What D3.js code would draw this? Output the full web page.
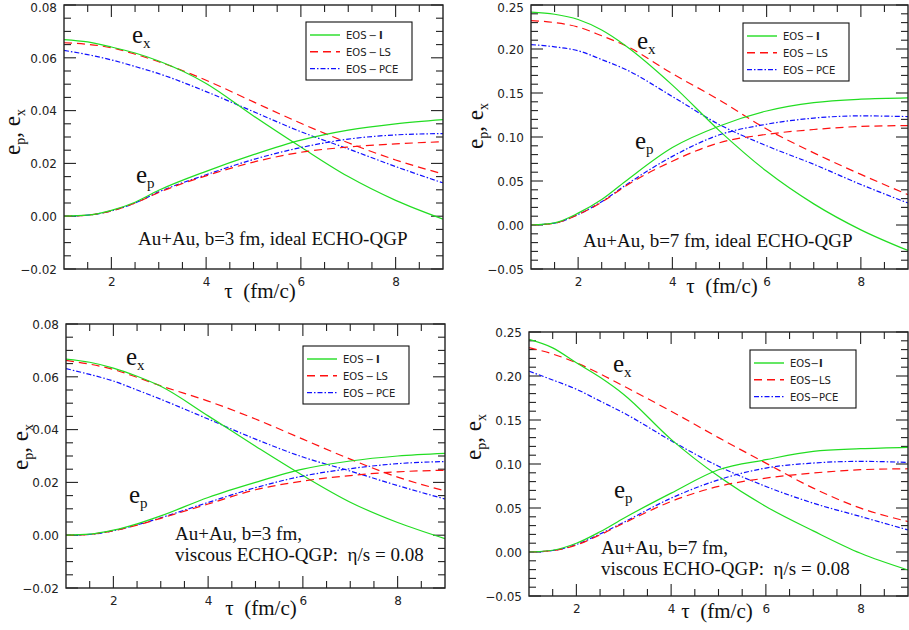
<!DOCTYPE html>
<html>
<head>
<meta charset="utf-8">
<script src="https://cdn.jsdelivr.net/npm/d3@7"></script>
<style>
  body { margin: 0; background: #fff; }
  svg text { white-space: pre; }
</style>
</head>
<body>
<svg id="fig" width="909" height="630"></svg>
<script>
// Proper time grid (fm/c) shared by every curve
const tau = [1, 1.5, 2, 2.5, 3, 4, 5, 6, 7, 8, 9];

// Legend / series names
const eosNames = ["I", "LS", "PCE"];

// Au+Au, b=3 fm, ideal hydro: e_x (spatial) and e_p (momentum) anisotropy
const exIdealB3 = {
  I:   [0.0669, 0.0660, 0.0641, 0.0618, 0.0588, 0.0503, 0.0380, 0.0262, 0.0150, 0.0060, -0.0011],
  LS:  [0.0657, 0.0651, 0.0638, 0.0614, 0.0585, 0.0515, 0.0433, 0.0352, 0.0278, 0.0213, 0.0160],
  PCE: [0.0628, 0.0612, 0.0592, 0.0567, 0.0540, 0.0472, 0.0396, 0.0320, 0.0255, 0.0188, 0.0126]
};
const epIdealB3 = {
  I:   [0, 0.0004, 0.0022, 0.0053, 0.0098, 0.0170, 0.0233, 0.0288, 0.0326, 0.0350, 0.0366],
  LS:  [0, 0.0004, 0.0020, 0.0050, 0.0090, 0.0153, 0.0205, 0.0242, 0.0262, 0.0274, 0.0282],
  PCE: [0, 0.0004, 0.0020, 0.0050, 0.0092, 0.0157, 0.0215, 0.0260, 0.0292, 0.0308, 0.0313]
};

// Au+Au, b=7 fm, ideal hydro
const exIdealB7 = {
  I:   [0.2418, 0.2395, 0.2335, 0.2215, 0.2040, 0.1590, 0.1070, 0.0610, 0.0240, -0.0055, -0.0290],
  LS:  [0.2323, 0.2300, 0.2250, 0.2150, 0.2040, 0.1720, 0.1420, 0.1090, 0.0820, 0.0575, 0.0345],
  PCE: [0.2050, 0.2025, 0.1980, 0.1880, 0.1770, 0.1460, 0.1140, 0.0900, 0.0690, 0.0460, 0.0250]
};
const epIdealB7 = {
  I:   [0, 0.0025, 0.0135, 0.0290, 0.0495, 0.0880, 0.1125, 0.1295, 0.1390, 0.1430, 0.1445],
  LS:  [0, 0.0020, 0.0118, 0.0260, 0.0440, 0.0725, 0.0935, 0.1030, 0.1085, 0.1120, 0.1130],
  PCE: [0, 0.0022, 0.0120, 0.0265, 0.0450, 0.0780, 0.1025, 0.1145, 0.1215, 0.1240, 0.1232]
};

// Au+Au, b=3 fm, viscous hydro (eta/s = 0.08)
const exViscB3 = {
  I:   [0.0667, 0.0655, 0.0633, 0.0602, 0.0564, 0.0452, 0.0337, 0.0226, 0.0125, 0.0048, -0.0013],
  LS:  [0.0662, 0.0648, 0.0628, 0.0598, 0.0566, 0.0508, 0.0440, 0.0364, 0.0288, 0.0220, 0.0168],
  PCE: [0.0631, 0.0609, 0.0584, 0.0550, 0.0515, 0.0440, 0.0364, 0.0296, 0.0243, 0.0188, 0.0137]
};
const epViscB3 = {
  I:   [0, 0.0004, 0.0019, 0.0043, 0.0073, 0.0143, 0.0200, 0.0250, 0.0281, 0.0300, 0.0310],
  LS:  [0, 0.0003, 0.0017, 0.0038, 0.0064, 0.0118, 0.0172, 0.0205, 0.0226, 0.0240, 0.0246],
  PCE: [0, 0.0003, 0.0017, 0.0039, 0.0066, 0.0124, 0.0180, 0.0224, 0.0252, 0.0271, 0.0279]
};

// Au+Au, b=7 fm, viscous hydro (eta/s = 0.08)
const exViscB7 = {
  I:   [0.2416, 0.2320, 0.2150, 0.1985, 0.1790, 0.1280, 0.0860, 0.0517, 0.0240, -0.0015, -0.0205],
  LS:  [0.2322, 0.2250, 0.2150, 0.2025, 0.1885, 0.1600, 0.1300, 0.1010, 0.0726, 0.0498, 0.0346],
  PCE: [0.2055, 0.1955, 0.1850, 0.1715, 0.1580, 0.1265, 0.0975, 0.0745, 0.0555, 0.0403, 0.0251]
};
const epViscB7 = {
  I:   [0, 0.0020, 0.0099, 0.0230, 0.0384, 0.0669, 0.0935, 0.1049, 0.1144, 0.1174, 0.1190],
  LS:  [0, 0.0016, 0.0080, 0.0195, 0.0327, 0.0574, 0.0745, 0.0840, 0.0897, 0.0935, 0.0946],
  PCE: [0, 0.0017, 0.0085, 0.0205, 0.0338, 0.0612, 0.0820, 0.0954, 0.1011, 0.1030, 0.1018]
};

// Axis ticks
const xMajorTicks = [2, 4, 6, 8];
const xMinorStep = 0.5;

// Line styles per equation of state
const styles = {
  I:   { color: "#22dd22", dash: null },
  LS:  { color: "#ff1010", dash: "8,5" },
  PCE: { color: "#1010ff", dash: "5,2,1.5,2" }
};

const panels = [
  { box: [64, 5, 443, 269], yDom: [-0.02, 0.08], yMajor: 0.02, yMinor: 0.005,
    ex: exIdealB3, ep: epIdealB3,
    exLab: [132, 43], epLab: [136, 183],
    note: ["Au+Au, b=3 fm, ideal ECHO-QGP"], noteXY: [138, 245],
    xLab: [260, 298], yLab: [20, 132], legend: [306, 22], tight: false },
  { box: [531, 5, 908, 269], yDom: [-0.05, 0.25], yMajor: 0.05, yMinor: 0.01,
    ex: exIdealB7, ep: epIdealB7,
    exLab: [637, 49], epLab: [635, 149],
    note: ["Au+Au, b=7 fm, ideal ECHO-QGP"], noteXY: [583, 247],
    xLab: [722, 293], yLab: [483, 126], legend: [743, 23], tight: false },
  { box: [66, 324, 445, 588], yDom: [-0.02, 0.08], yMajor: 0.02, yMinor: 0.005,
    ex: exViscB3, ep: epViscB3,
    exLab: [126, 365], epLab: [129, 503],
    note: ["Au+Au, b=3 fm,", "viscous ECHO-QGP:  \u03b7/s = 0.08"], noteXY: [175, 540],
    xLab: [261, 615], yLab: [28, 447], legend: [303, 346], tight: false },
  { box: [529, 332, 908, 596], yDom: [-0.05, 0.25], yMajor: 0.05, yMinor: 0.01,
    ex: exViscB7, ep: epViscB7,
    exLab: [613, 372], epLab: [614, 498],
    note: ["Au+Au, b=7 fm,", "viscous ECHO-QGP:  \u03b7/s = 0.08"], noteXY: [601, 554],
    xLab: [717, 618], yLab: [481, 437], legend: [750, 350], tight: true }
];

const svg = d3.select("#fig");
const SANS = "'DejaVu Sans', sans-serif";
const SERIF = "'Liberation Serif', 'Times New Roman', serif";
const frameColor = "#222";

function range(a, b, step) {
  const out = [];
  const n = Math.round((b - a) / step);
  for (let i = 0; i <= n; i++) out.push(+(a + i * step).toFixed(6));
  return out;
}

panels.forEach((p, idx) => {
  const [x0, y0, x1, y1] = p.box;
  const x = d3.scaleLinear().domain([1, 9]).range([x0, x1]);
  const y = d3.scaleLinear().domain(p.yDom).range([y1, y0]);
  const g = svg.append("g");

  const clipId = "clip" + idx;
  svg.append("clipPath").attr("id", clipId)
    .append("rect").attr("x", x0).attr("y", y0).attr("width", x1 - x0).attr("height", y1 - y0);

  // Mirrored inward ticks on all four sides
  const xMinor = range(1, 9, xMinorStep).filter(v => !xMajorTicks.includes(v) && v > 1 && v < 9);
  const yMaj = range(p.yDom[0], p.yDom[1], p.yMajor);
  const yMin = range(p.yDom[0], p.yDom[1], p.yMinor)
    .filter(v => !yMaj.some(m => Math.abs(m - v) < 1e-9) && v > p.yDom[0] && v < p.yDom[1]);
  const MAJ = 12, MIN = 7;

  const ticks = g.append("g").attr("stroke", frameColor).attr("stroke-width", 1.1);
  const tickLine = (xa, ya, xb, yb) => ticks.append("line")
    .attr("x1", xa).attr("y1", ya).attr("x2", xb).attr("y2", yb);
  xMajorTicks.forEach(v => { tickLine(x(v), y1, x(v), y1 - MAJ); tickLine(x(v), y0, x(v), y0 + MAJ); });
  xMinor.forEach(v => { tickLine(x(v), y1, x(v), y1 - MIN); tickLine(x(v), y0, x(v), y0 + MIN); });
  yMaj.forEach(v => { tickLine(x0, y(v), x0 + MAJ, y(v)); tickLine(x1, y(v), x1 - MAJ, y(v)); });
  yMin.forEach(v => { tickLine(x0, y(v), x0 + MIN, y(v)); tickLine(x1, y(v), x1 - MIN, y(v)); });

  // Tick labels via d3 axes
  const axisBottom = d3.axisBottom(x).tickValues(xMajorTicks).tickSize(0).tickFormat(d3.format("d")).tickPadding(0);
  const xAxisG = g.append("g").attr("transform", `translate(0,${y1})`).call(axisBottom);
  xAxisG.select(".domain").remove();
  xAxisG.selectAll("text").attr("y", 17).attr("dy", 0)
    .attr("font-family", SANS).attr("font-size", 12).attr("fill", "#222");

  const axisLeft = d3.axisLeft(y).tickValues(yMaj).tickSize(0).tickPadding(7).tickFormat(d3.format(".2f"));
  const yAxisG = g.append("g").attr("transform", `translate(${x0},0)`).call(axisLeft);
  yAxisG.select(".domain").remove();
  yAxisG.selectAll("text").attr("font-family", SANS).attr("font-size", 12).attr("fill", "#222")
    .attr("dy", d => (Math.abs(d - p.yDom[1]) < 1e-9 && y0 < 10) ? "0.55em" : "0.35em");

  // Curves
  const line = d3.line().x(d => x(d[0])).y(d => y(d[1])).curve(d3.curveMonotoneX);
  const curves = g.append("g").attr("clip-path", `url(#${clipId})`);
  ["ex", "ep"].forEach(kind => {
    eosNames.slice().reverse().forEach(name => {
      const vals = p[kind][name];
      curves.append("path")
        .attr("d", line(tau.map((t, i) => [t, vals[i]])))
        .attr("fill", "none")
        .attr("stroke", styles[name].color)
        .attr("stroke-width", 1.2)
        .attr("stroke-dasharray", styles[name].dash);
    });
  });

  // Frame
  g.append("rect").attr("x", x0).attr("y", y0).attr("width", x1 - x0).attr("height", y1 - y0)
    .attr("fill", "none").attr("stroke", frameColor).attr("stroke-width", 1.4);

  // Curve labels e_x, e_p
  const subLabel = (pos, sub) => {
    const t = g.append("text").attr("x", pos[0]).attr("y", pos[1])
      .attr("font-family", SERIF).attr("font-size", 25).attr("fill", "#111");
    t.append("tspan").text("e");
    t.append("tspan").attr("font-size", 15).attr("dy", 5).text(sub);
  };
  subLabel(p.exLab, "x");
  subLabel(p.epLab, "p");

  // Collision / model annotation
  p.note.forEach((line, i) => {
    g.append("text").attr("x", p.noteXY[0]).attr("y", p.noteXY[1] + i * 21)
      .attr("font-family", SERIF).attr("font-size", 19).attr("fill", "#111").text(line);
  });

  // Axis titles
  g.append("text").attr("x", p.xLab[0]).attr("y", p.xLab[1]).attr("text-anchor", "middle")
    .attr("font-family", SERIF).attr("font-size", 21).attr("fill", "#111").text("\u03c4  (fm/c)");

  const yt = g.append("text")
    .attr("transform", `translate(${p.yLab[0]},${p.yLab[1]}) rotate(-90)`)
    .attr("text-anchor", "middle")
    .attr("font-family", SERIF).attr("font-size", 23).attr("fill", "#111");
  yt.append("tspan").text("e");
  yt.append("tspan").attr("font-size", 14).attr("dy", 5).text("p");
  yt.append("tspan").attr("dy", -5).text(", e");
  yt.append("tspan").attr("font-size", 14).attr("dy", 5).text("x");

  // Legend
  const [lx, ly] = p.legend;
  const lg = g.append("g").attr("transform", `translate(${lx},${ly})`);
  lg.append("rect").attr("width", 106).attr("height", 58)
    .attr("fill", "#fff").attr("stroke", "#111").attr("stroke-width", 1.1);
  eosNames.forEach((name, i) => {
    const ry = 13 + i * 16.8;
    lg.append("line").attr("x1", 4).attr("x2", 34).attr("y1", ry).attr("y2", ry)
      .attr("stroke", styles[name].color).attr("stroke-width", 1.4)
      .attr("stroke-dasharray", styles[name].dash);
    const t = lg.append("text").attr("x", 40).attr("y", ry + 4)
      .attr("font-family", SANS).attr("font-size", 10).attr("fill", "#222");
    const sep = p.tight ? "\u2212" : "\u2009\u2212\u2009";
    t.append("tspan").text("EOS" + sep);
    t.append("tspan").attr("font-weight", name === "I" ? "bold" : null).text(name);
  });
});
</script>
</body>
</html>
